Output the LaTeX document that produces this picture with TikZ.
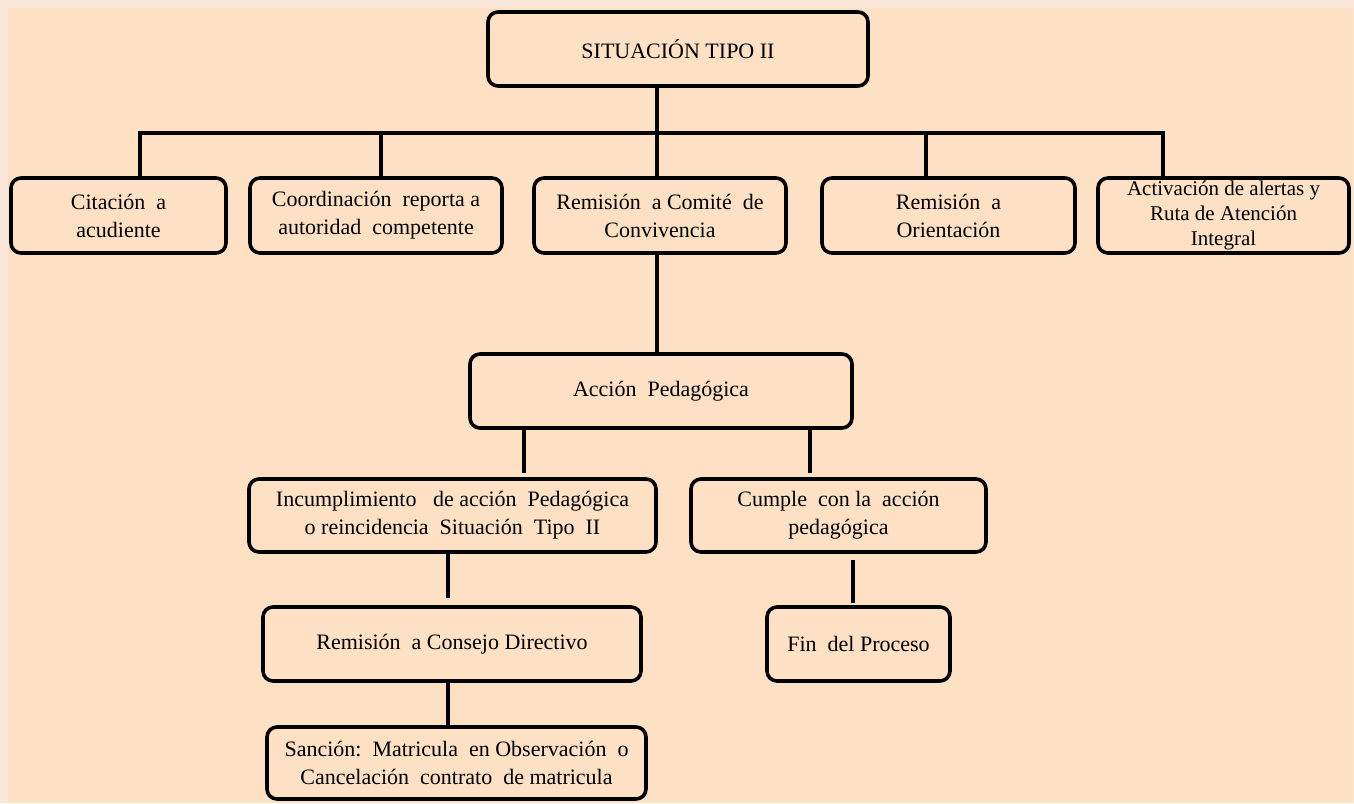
\documentclass[tikz,border=0pt]{standalone}
\usepackage{fontspec}
\setmainfont{Liberation Serif}
\definecolor{outerbg}{RGB}{251,232,218}
\definecolor{peach}{RGB}{254,224,197}
\tikzset{
  box/.style={draw=black, line width=3.6pt, rounded corners=10pt, fill=peach,
    align=center, inner sep=0pt, font=\fontsize{22}{28}\selectfont},
  smallbox/.style={box, font=\fontsize{21}{25}\selectfont},
  link/.style={line width=3.6pt, draw=black}
}
\begin{document}
\begin{tikzpicture}[x=1pt,y=-1pt]
\useasboundingbox (0,0) rectangle (1354,803);
\fill[outerbg] (0,0) rectangle (1354,803);
\fill[peach] (8,8) rectangle (1353,803);

\node[box, minimum width=380pt, minimum height=74pt] (top) at (678,49) {SITUACIÓN TIPO II};

\node[box, minimum width=215pt, minimum height=75pt] (c1) at (118.5,215.5) {Citación\ \ a\\acudiente};
\node[box, minimum width=252pt, minimum height=75pt] (c2) at (376,215.5) {Coordinación\ \ reporta a\\autoridad\ \ competente};
\node[box, minimum width=252pt, minimum height=75pt] (c3) at (660,215.5) {Remisión\ \ a Comité\ \ de\\Convivencia};
\node[box, minimum width=253pt, minimum height=75pt] (c4) at (948.5,215.5) {Remisión\ \ a\\Orientación};
\node[smallbox, minimum width=251pt, minimum height=75pt] (c5) at (1223.5,215.5) {Activación de alertas y\\Ruta de Atención\\Integral};

\node[box, minimum width=382pt, minimum height=74pt] (acc) at (661,391) {Acción\ \ Pedagógica};

\node[box, minimum width=407pt, minimum height=73pt] (inc) at (452.5,515.5) {Incumplimiento\ \ \ de acción\ \ Pedagógica\\o reincidencia\ \ Situación\ \ Tipo\ \ II};
\node[box, minimum width=295pt, minimum height=73pt] (cum) at (838.5,515.5) {Cumple\ \ con la\ \ acción\\pedagógica};

\node[box, minimum width=378pt, minimum height=74pt] (con) at (452,644) {Remisión\ \ a Consejo Directivo};
\node[box, minimum width=183pt, minimum height=74pt] (fin) at (858.5,644) {Fin\ \ del Proceso};

\node[box, minimum width=379pt, minimum height=72pt] (san) at (456.5,763) {Sanción:\ \ Matricula\ \ en Observación\ \ o\\Cancelación\ \ contrato\ \ de matricula};

% bus
\coordinate (bus) at (657,133);
\coordinate (k1) at (140,133);
\coordinate (k2) at (381,133);
\coordinate (k4) at (926,133);
\coordinate (k5) at (1163,133);
\draw[link] (bus |- top.south) -- (bus);
\draw[link, line cap=rect] (k1) -- (k5);
\draw[link] (k1) -- (k1 |- c1.north);
\draw[link] (k2) -- (k2 |- c2.north);
\draw[link] (bus) -- (bus |- c3.north);
\draw[link] (k4) -- (k4 |- c4.north);
\draw[link] (k5) -- (k5 |- c5.north);

\draw[link] (bus |- c3.south) -- (bus |- acc.north);

\coordinate (a1) at (524,430);
\coordinate (a2) at (810,430);
\draw[link, shorten >=4pt] (a1 |- acc.south) -- (a1 |- inc.north);
\draw[link, shorten >=4pt] (a2 |- acc.south) -- (a2 |- cum.north);

\coordinate (b1) at (448,560);
\coordinate (b2) at (853,560);
\draw[link, shorten >=7pt] (b1 |- inc.south) -- (b1 |- con.north);
\draw[link, shorten <=6pt, shorten >=2pt] (b2 |- cum.south) -- (b2 |- fin.north);
\draw[link] (b1 |- con.south) -- (b1 |- san.north);
\end{tikzpicture}
\end{document}
